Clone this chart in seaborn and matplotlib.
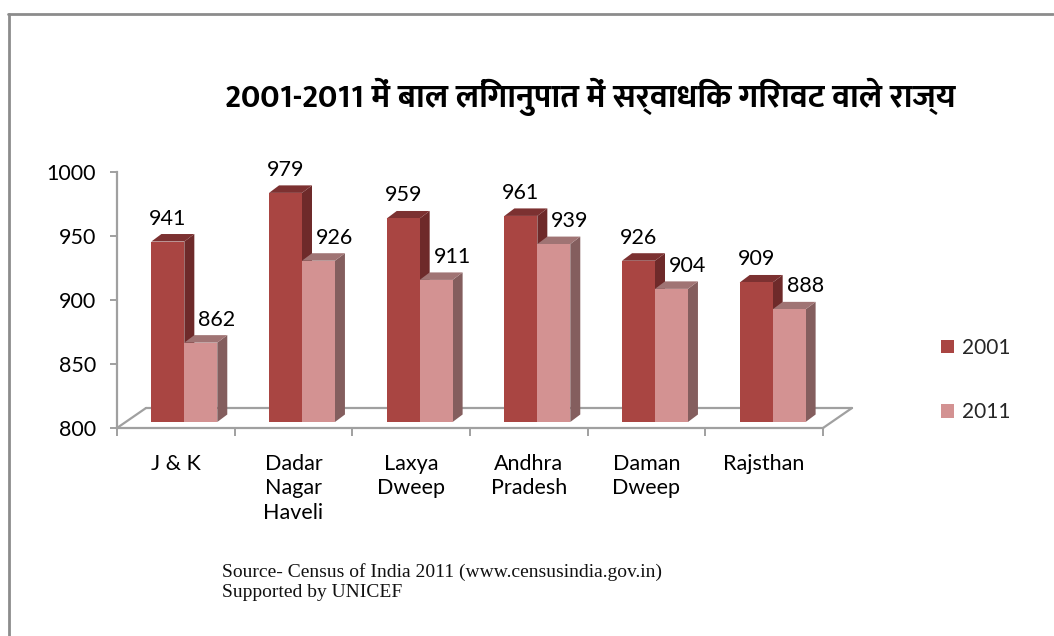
import matplotlib
matplotlib.use("Agg")
import matplotlib.pyplot as plt
import matplotlib.transforms as mtransforms
from matplotlib.patches import Polygon
from matplotlib.lines import Line2D
import seaborn as sns
import pandas as pd

# ---------------- data ----------------
states = ['J & K', 'Dadar\nNagar\nHaveli', 'Laxya\nDweep', 'Andhra\nPradesh', 'Daman\nDweep', 'Rajsthan']
years = ['2001', '2011']
values_2001 = [941, 979, 959, 961, 926, 909]
values_2011 = [862, 926, 911, 939, 904, 888]
y_ticks = [800, 850, 900, 950, 1000]
title = '2001-2011 में बाल लिंगानुपात में सर्वाधिक गिरावट वाले राज्य'
source = 'Source- Census of India 2011 (www.censusindia.gov.in)\nSupported by UNICEF'

front_colors = {'2001': '#A94542', '2011': '#D39292'}
side_colors = {'2001': '#6E2A2A', '2011': '#845E5E'}
top_colors = {'2001': '#7C3131', '2011': '#A07474'}

df = pd.DataFrame({
    'state': states * 2,
    'year': ['2001'] * len(states) + ['2011'] * len(states),
    'value': values_2001 + values_2011,
})

sns.set_style('white')
base_font = ['Lato', 'DejaVu Sans']
plt.rcParams['font.family'] = base_font
FS = 15.5

W, H, DPI = 1054, 636, 100
fig = plt.figure(figsize=(W / DPI, H / DPI), dpi=DPI)
fig.patch.set_facecolor('white')

# axes: x -0.5..5.5 -> px 117..823 ; y 800..1000 -> px 428..172 (image coords)
ax = fig.add_axes([117 / W, (H - 428) / H, (823 - 117) / W, (428 - 172) / H])
ax.set_facecolor('none')

sns.barplot(data=df, x='state', y='value', hue='year', hue_order=years,
            palette=front_colors, width=0.56, saturation=1, ax=ax,
            legend=True, linewidth=0, errorbar=None)

ax.set_xlim(-0.5, len(states) - 0.5)
ax.set_ylim(800, 1000)
ax.set_yticks(y_ticks)
ax.set_xlabel('')
ax.set_ylabel('')

for s in ['top', 'right']:
    ax.spines[s].set_visible(False)
for s in ['left', 'bottom']:
    ax.spines[s].set_color('#A0A0A0')
    ax.spines[s].set_linewidth(1.6)

ax.tick_params(axis='y', which='major', direction='out', length=5, width=1.4,
               color='#A0A0A0', pad=10, labelsize=FS, labelcolor='black', left=True)
ax.set_xticks(range(len(states)))
ax.set_xticklabels(states)
ax.set_xticks([i - 0.5 for i in range(len(states) + 1)], minor=True)
ax.tick_params(axis='x', which='major', length=0, pad=18.5, labelsize=FS, labelcolor='black')
ax.tick_params(axis='x', which='minor', direction='out', length=6, width=1.4,
               color='#A0A0A0', bottom=True)
for lab in ax.get_xticklabels():
    lab.set_verticalalignment('top')
    lab.set_linespacing(1.3)

# ---- 3D look ----
bar_dx, bar_dy = 8.5, 6.0       # shift of front faces (px)
dep_x, dep_y = 10.0, 7.5        # bar depth (px)
floor_dx, floor_dy = 29.0, 20.0  # floor depth (px)

off = mtransforms.ScaledTranslation(bar_dx / DPI, bar_dy / DPI, fig.dpi_scale_trans)
ident = mtransforms.IdentityTransform()

bars = []
for year, cont in zip(years, ax.containers):
    vals = values_2001 if year == '2001' else values_2011
    for p, v in zip(cont.patches, vals):
        bars.append((p.get_x(), year, p, v))
bars.sort(key=lambda t: t[0])

floor = ax.transData.transform([(-0.5, 800), (len(states) - 0.5, 800)])
(fx0, fy0), (fx1, fy1) = floor
for xa, ya, xb, yb in [
    (fx0, fy0, fx0 + floor_dx, fy0 + floor_dy),
    (fx0 + floor_dx, fy0 + floor_dy, fx1 + floor_dx, fy1 + floor_dy),
    (fx1, fy1, fx1 + floor_dx, fy1 + floor_dy),
]:
    ax.add_line(Line2D([xa, xb], [ya, yb], transform=ident, color='#A0A0A0',
                       lw=1.6, clip_on=False, zorder=1))

for k, (_, year, p, v) in enumerate(bars):
    x0 = p.get_x()
    w = p.get_width()
    p.set_y(800)
    p.set_height(v - 800)
    p.set_transform(ax.transData + off)
    p.set_clip_on(False)
    p.set_zorder(3 + 2 * k)
    (lx, by), (rx, ty) = ax.transData.transform([(x0, 800), (x0 + w, v)])
    lx += bar_dx; rx += bar_dx; by += bar_dy; ty += bar_dy
    side = Polygon([(rx, by), (rx + dep_x, by + dep_y), (rx + dep_x, ty + dep_y), (rx, ty)],
                   closed=True, transform=ident, facecolor=side_colors[year],
                   edgecolor='none', clip_on=False, zorder=2 + 2 * k)
    top = Polygon([(lx, ty), (rx, ty), (rx + dep_x, ty + dep_y), (lx + dep_x, ty + dep_y)],
                  closed=True, transform=ident, facecolor=top_colors[year],
                  edgecolor='none', clip_on=False, zorder=2 + 2 * k)
    ax.add_patch(side)
    ax.add_patch(top)
    lab_dx = bar_dx + (0 if year == '2001' else 16)
    ax.annotate(str(v), (x0 + w / 2, v), xytext=(lab_dx, bar_dy + 17),
                textcoords='offset pixels', ha='center', va='baseline',
                fontsize=FS, color='black', zorder=100, annotation_clip=False)

# legend
handles, labels = ax.get_legend_handles_labels()
if ax.get_legend() is not None:
    ax.get_legend().remove()
fig.legend(handles, labels, loc='center left',
           bbox_to_anchor=(941 / W, 1 - 380 / H), frameon=False,
           fontsize=15, handlelength=0.62, handleheight=0.62, handletextpad=0.4,
           labelspacing=2.15, borderpad=0, borderaxespad=0)

# title
fig.text(590 / W, 1 - 97 / H, title, ha='center', va='center', fontsize=23.5,
         fontweight='bold', family=['Ek Mukta', 'Lato', 'DejaVu Sans'], color='black')

# source
fig.text(222 / W, 1 - 563 / H, source, ha='left', va='top', fontsize=14,
         family=['Liberation Serif', 'DejaVu Serif'], color='#111111', linespacing=1.2)

# outer frame (left and top)
fig.add_artist(Line2D([9 / W, 9 / W], [0, 1 - 14 / H], transform=fig.transFigure,
                      color='#8C8C8C', lw=2))
fig.add_artist(Line2D([8 / W, 1053 / W], [1 - 14 / H, 1 - 14 / H], transform=fig.transFigure,
                      color='#8C8C8C', lw=2))

fig.savefig('out.png', dpi=DPI, facecolor='white')
